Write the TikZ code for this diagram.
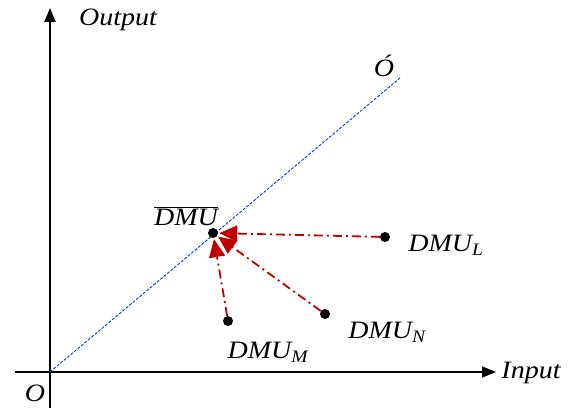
\documentclass[tikz,border=0pt]{standalone}
\usepackage{fontspec}
\setmainfont{Liberation Serif}
\newfontfamily\labfont{Liberation Serif}[FakeStretch=1.12]
\usetikzlibrary{arrows.meta}
\tikzset{
  axis/.style={line width=2pt,-{Triangle[length=14pt,width=11pt]}},
  diag/.style={draw=blue!70!cyan!80!black,dash pattern=on 3pt off 1.5pt,line width=0.9pt},
  proj/.style={draw=red!75!black,line width=1.8pt,dash pattern=on 9pt off 4pt on 2pt off 4pt,
     -{Triangle[length=18pt,width=16pt,fill=red!75!black]}, shorten >=1pt},
  pt/.style={circle,fill=black,inner sep=0pt,minimum size=10pt},
  lab/.style={font=\labfont\fontsize{25}{27}\selectfont\itshape,inner sep=0pt}
}
\begin{document}
\begin{tikzpicture}[x=1pt,y=-1pt]
\useasboundingbox (0,0) rectangle (584,409);
\coordinate (O) at (50,372);
\coordinate (ytop) at (50,8);
\coordinate (ybot) at (50,408);
\coordinate (xl) at (15,372);
\coordinate (xr) at (496,372);
\coordinate (Oprime) at (400,78);
\draw[axis] (ybot) -- (ytop);
\draw[axis] (xl) -- (xr);
\draw[diag] (O) -- (Oprime);
\node[lab] (out) at (118,20) {Output};
\node[lab] (inp) at (531,373) {Input};
\node[lab] (olab) at (35,393) {O};
\node[lab] (oplab) at (384,66) {\'O};
\node[pt] (bar) at (213,233) {};
\node[pt] (L) at (385,237) {};
\node[pt] (N) at (325,314) {};
\node[pt] (M) at (228,321) {};
\node[lab] (barlab) at (186,216) {$\overline{\hbox{\labfont\fontsize{25}{27}\selectfont\itshape DMU}}$};
\node[lab] (Llab) at (446,245) {DMU\textsubscript{L}};
\node[lab] (Nlab) at (387,332) {DMU\textsubscript{N}};
\node[lab] (Mlab) at (268,352) {DMU\textsubscript{M}};
\draw[proj] (L) -- (bar);
\draw[proj] (N) -- (bar);
\draw[proj] (M) -- (bar);
\end{tikzpicture}
\end{document}
